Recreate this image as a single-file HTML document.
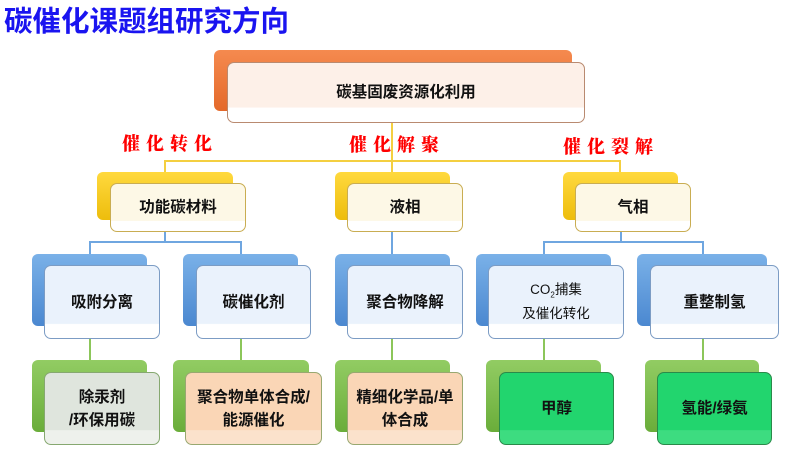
<!DOCTYPE html>
<html><head><meta charset="utf-8"><style>
*{margin:0;padding:0;box-sizing:border-box}
body{width:799px;height:468px;background:#fff;position:relative;overflow:hidden;font-family:"Liberation Sans","Noto Sans CJK SC",sans-serif}
.a{position:absolute}
.b{position:absolute;border-radius:6px}
.f{position:absolute;border-radius:7px;border:1.5px solid;display:flex;align-items:center;justify-content:center;text-align:center;font-size:15.5px;font-weight:bold;color:#111;line-height:23px}
.r{position:absolute;color:#f00;font-weight:900;font-size:18px;letter-spacing:6px;font-family:"Noto Serif CJK SC",serif}
.l{position:absolute}
</style></head><body>
<div class="a" style="left:4px;top:-1px;font-size:28.5px;font-weight:bold;color:#1a14f0">碳催化课题组研究方向</div>

<div class="l" style="left:391px;top:123px;width:2px;height:50px;background:#f4cf40"></div>
<div class="l" style="left:164px;top:160px;width:457px;height:2px;background:#f4cf40"></div>
<div class="l" style="left:164px;top:160px;width:2px;height:13px;background:#f4cf40"></div>
<div class="l" style="left:619px;top:160px;width:2px;height:13px;background:#f4cf40"></div>

<div class="l" style="left:164px;top:232px;width:1.5px;height:10px;background:#6fa6e0"></div>
<div class="l" style="left:89px;top:241px;width:153px;height:1.5px;background:#6fa6e0"></div>
<div class="l" style="left:89px;top:241px;width:1.5px;height:14px;background:#6fa6e0"></div>
<div class="l" style="left:240px;top:241px;width:1.5px;height:14px;background:#6fa6e0"></div>
<div class="l" style="left:391px;top:232px;width:1.5px;height:23px;background:#6fa6e0"></div>
<div class="l" style="left:620px;top:232px;width:1.5px;height:10px;background:#6fa6e0"></div>
<div class="l" style="left:543px;top:241px;width:160px;height:1.5px;background:#6fa6e0"></div>
<div class="l" style="left:543px;top:241px;width:1.5px;height:14px;background:#6fa6e0"></div>
<div class="l" style="left:702px;top:241px;width:1.5px;height:14px;background:#6fa6e0"></div>

<div class="l" style="left:89px;top:339px;width:1.5px;height:22px;background:#8cc65a"></div>
<div class="l" style="left:240px;top:339px;width:1.5px;height:22px;background:#8cc65a"></div>
<div class="l" style="left:391px;top:339px;width:1.5px;height:22px;background:#8cc65a"></div>
<div class="l" style="left:543px;top:339px;width:1.5px;height:22px;background:#8cc65a"></div>
<div class="l" style="left:702px;top:339px;width:1.5px;height:22px;background:#8cc65a"></div>

<div class="b" style="left:214px;top:50px;width:358px;height:61px;background:linear-gradient(#f58a4f,#e4692a)"></div>
<div class="f" style="left:227px;top:62px;width:358px;height:61px;background:linear-gradient(#fdf0e8 75%,#fff 76%);border-color:#b98a70">碳基固废资源化利用</div>

<div class="r" style="left:122px;top:130px">催化转化</div>
<div class="r" style="left:349px;top:131px">催化解聚</div>
<div class="r" style="left:563px;top:133px">催化裂解</div>

<div class="b" style="left:97px;top:172px;width:136px;height:48px;background:linear-gradient(#ffd93e,#edbd0c)"></div>
<div class="f" style="left:110px;top:183px;width:136px;height:49px;background:linear-gradient(#fdf8e6 78%,#fff 79%);border-color:#c9ad52">功能碳材料</div>
<div class="b" style="left:335px;top:172px;width:115px;height:48px;background:linear-gradient(#ffd93e,#edbd0c)"></div>
<div class="f" style="left:347px;top:183px;width:116px;height:49px;background:linear-gradient(#fdf8e6 78%,#fff 79%);border-color:#c9ad52">液相</div>
<div class="b" style="left:563px;top:172px;width:115px;height:48px;background:linear-gradient(#ffd93e,#edbd0c)"></div>
<div class="f" style="left:575px;top:183px;width:116px;height:49px;background:linear-gradient(#fdf8e6 78%,#fff 79%);border-color:#c9ad52">气相</div>

<div class="b" style="left:32px;top:254px;width:115px;height:72px;background:linear-gradient(#7ab1e8,#4b88d0)"></div>
<div class="f" style="left:44px;top:265px;width:116px;height:74px;background:linear-gradient(#eaf2fc 80%,#fff 81%);border-color:#7c9cc4">吸附分离</div>
<div class="b" style="left:183px;top:254px;width:115px;height:72px;background:linear-gradient(#7ab1e8,#4b88d0)"></div>
<div class="f" style="left:196px;top:265px;width:115px;height:74px;background:linear-gradient(#eaf2fc 80%,#fff 81%);border-color:#7c9cc4">碳催化剂</div>
<div class="b" style="left:335px;top:254px;width:115px;height:72px;background:linear-gradient(#7ab1e8,#4b88d0)"></div>
<div class="f" style="left:347px;top:265px;width:116px;height:74px;background:linear-gradient(#eaf2fc 80%,#fff 81%);border-color:#7c9cc4">聚合物降解</div>
<div class="b" style="left:476px;top:254px;width:135px;height:72px;background:linear-gradient(#7ab1e8,#4b88d0)"></div>
<div class="f" style="left:488px;top:265px;width:136px;height:74px;background:linear-gradient(#eaf2fc 80%,#fff 81%);border-color:#7c9cc4;font-size:13.5px;line-height:18px;font-weight:normal"><div>CO<sub style="font-size:8px">2</sub>捕集<br>及催化转化</div></div>
<div class="b" style="left:637px;top:254px;width:130px;height:72px;background:linear-gradient(#7ab1e8,#4b88d0)"></div>
<div class="f" style="left:650px;top:265px;width:129px;height:74px;background:linear-gradient(#eaf2fc 80%,#fff 81%);border-color:#7c9cc4">重整制氢</div>

<div class="b" style="left:32px;top:360px;width:115px;height:72px;background:linear-gradient(#92cc63,#6aad3a)"></div>
<div class="f" style="left:44px;top:372px;width:116px;height:73px;background:linear-gradient(#dfe5dd 80%,#eef1ec 81%);border-color:#86a870">除汞剂<br>/环保用碳</div>
<div class="b" style="left:173px;top:360px;width:136px;height:72px;background:linear-gradient(#92cc63,#6aad3a)"></div>
<div class="f" style="left:185px;top:372px;width:137px;height:73px;background:linear-gradient(#fad6b6 80%,#fbe2cc 81%);border-color:#98a870">聚合物单体合成/<br>能源催化</div>
<div class="b" style="left:335px;top:360px;width:115px;height:72px;background:linear-gradient(#92cc63,#6aad3a)"></div>
<div class="f" style="left:347px;top:372px;width:116px;height:73px;background:linear-gradient(#fad6b6 80%,#fbe2cc 81%);border-color:#98a870">精细化学品/单<br>体合成</div>
<div class="b" style="left:486px;top:360px;width:115px;height:72px;background:linear-gradient(#92cc63,#6aad3a)"></div>
<div class="f" style="left:499px;top:372px;width:115px;height:73px;background:linear-gradient(#22d56e 80%,#3ddc80 81%);border-color:#2a8a4a">甲醇</div>
<div class="b" style="left:645px;top:360px;width:114px;height:72px;background:linear-gradient(#92cc63,#6aad3a)"></div>
<div class="f" style="left:657px;top:372px;width:115px;height:73px;background:linear-gradient(#22d56e 80%,#3ddc80 81%);border-color:#2a8a4a">氢能/绿氨</div>
</body></html>
